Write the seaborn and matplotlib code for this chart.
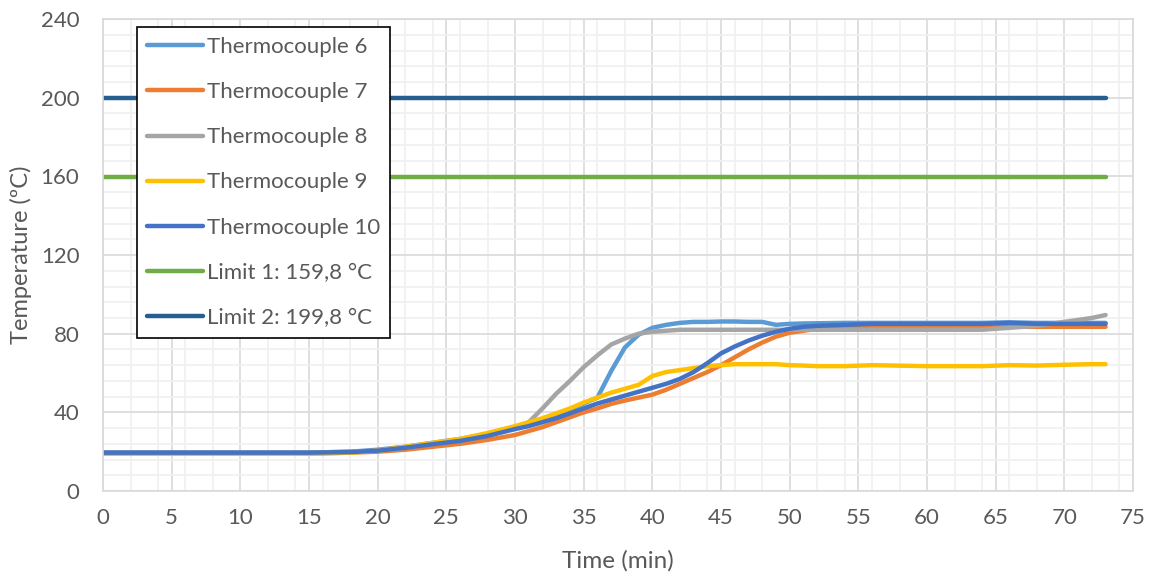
import numpy as np
import pandas as pd
import seaborn as sns
import matplotlib.pyplot as plt
from matplotlib.ticker import MultipleLocator

# time axis (min) shared by all thermocouples
time = [0, 5, 10, 15, 18, 20, 22, 24, 26, 28, 30, 31, 32, 33, 34, 35, 36, 37, 38, 39,
        40, 41, 42, 43, 44, 45, 46, 47, 48, 49, 50, 51, 52, 54, 56, 60, 64, 66, 68, 70, 72, 73]

tc6 = [19.5, 19.5, 19.5, 19.5, 20, 21, 22.5, 24.5, 26.5, 29, 32.5, 34.5, 36.5, 39, 41.5, 44.5, 47.5, 61, 73, 79.5,
       83, 84.5, 85.5, 86, 86, 86.2, 86.2, 86, 86, 84.5, 85, 85.2, 85.3, 85.5, 85.5, 85.5, 85.5, 85.8, 85.5, 85.5, 85.5, 85.5]
tc7 = [19, 19, 19, 19, 19.5, 20, 21, 22.5, 24, 26, 28.5, 30.5, 32.5, 35, 37.5, 40, 42, 44.3, 46, 47.5,
       49, 51.5, 54.5, 57.5, 60.5, 64, 68, 72, 75.5, 78.5, 80.5, 81.5, 82.5, 83, 83.5, 83.5, 83.5, 83.5, 83.5, 83.5, 83.5, 83.5]
tc8 = [19.5, 19.5, 19.5, 19.5, 20, 20.5, 22, 24, 26, 28.5, 32, 35, 42, 49.5, 56, 63, 69, 74.5, 77.5, 80,
       81, 81.5, 82, 82, 82, 82, 82, 82, 82, 82, 82, 82, 82, 82, 82, 82, 82, 83, 84, 86, 88, 89.5]
tc9 = [19, 19, 19, 19, 19.5, 20.5, 22.5, 24.5, 26.5, 29.5, 33, 35, 37, 39.5, 42, 45, 47.5, 50, 52, 54,
       58.5, 60.5, 61.5, 62.5, 63.5, 64, 64.5, 64.5, 64.5, 64.5, 64, 63.8, 63.5, 63.5, 64, 63.5, 63.5, 64, 63.8, 64.2, 64.5, 64.5]
tc10 = [19.5, 19.5, 19.5, 19.5, 19.8, 20.5, 22, 23.8, 25.5, 28, 31.5, 33, 35, 37, 39.5, 42, 44.5, 46.5, 48.5, 50.5,
        52.5, 54.5, 57, 60.5, 65, 70, 73.5, 76.5, 79, 81, 82.5, 83.5, 84, 84.5, 85, 85, 85, 85.5, 85, 85, 85, 85]

limit1 = 159.8
limit2 = 199.8

series = {
    "Thermocouple 6": (tc6, "#5B9BD5"),
    "Thermocouple 7": (tc7, "#ED7D31"),
    "Thermocouple 8": (tc8, "#A5A5A5"),
    "Thermocouple 9": (tc9, "#FFC000"),
    "Thermocouple 10": (tc10, "#4472C4"),
}

sns.set_style("white")
plt.rcParams['font.family'] = ['Lato', 'DejaVu Sans']
txt = "#595959"

fig = plt.figure(figsize=(11.59, 5.78), dpi=100)
ax = fig.add_axes([0.0889, 0.1505, 0.8887, 0.8165])

for name, (vals, col) in series.items():
    df = pd.DataFrame({"time": time, "temp": vals})
    sns.lineplot(data=df, x="time", y="temp", ax=ax, color=col, lw=3.2, label=name)

lim_df = pd.DataFrame({"time": [time[0], time[-1]]})
lim_df["l1"] = limit1
lim_df["l2"] = limit2
sns.lineplot(data=lim_df, x="time", y="l1", ax=ax, color="#70AD47", lw=3.2, label="Limit 1: 159,8 °C")
sns.lineplot(data=lim_df, x="time", y="l2", ax=ax, color="#255E91", lw=3.2, label="Limit 2: 199,8 °C")

ax.set_xlim(0, 75)
ax.set_ylim(0, 240)
ax.xaxis.set_major_locator(MultipleLocator(5))
ax.xaxis.set_minor_locator(MultipleLocator(2))
ax.yaxis.set_major_locator(MultipleLocator(40))
ax.yaxis.set_minor_locator(MultipleLocator(8))
ax.grid(which="major", color="#D9D9D9", lw=1.2)
ax.grid(which="minor", color="#F0F0F0", lw=1.2)
ax.set_axisbelow(True)
for s in ax.spines.values():
    s.set_color("#D9D9D9")
    s.set_linewidth(1.2)
ax.tick_params(which="both", length=0, labelsize=16, labelcolor=txt)
ax.tick_params(axis="x", pad=12)
ax.tick_params(axis="y", pad=17)
ax.set_xlabel("Time (min)", fontsize=17.5, color=txt, labelpad=16)
ax.set_ylabel("Temperature (ºC)", fontsize=17, color=txt, labelpad=6)

leg = ax.legend(loc="upper left", bbox_to_anchor=(0.033, 0.983), fontsize=16,
                frameon=True, fancybox=False, edgecolor="black", framealpha=1,
                handlelength=2.5, handletextpad=0.18, labelspacing=1.13,
                borderpad=0.45, borderaxespad=0)
leg.get_frame().set_linewidth(1.2)
for t in leg.get_texts():
    t.set_color(txt)

fig.savefig("out.png", dpi=100)
